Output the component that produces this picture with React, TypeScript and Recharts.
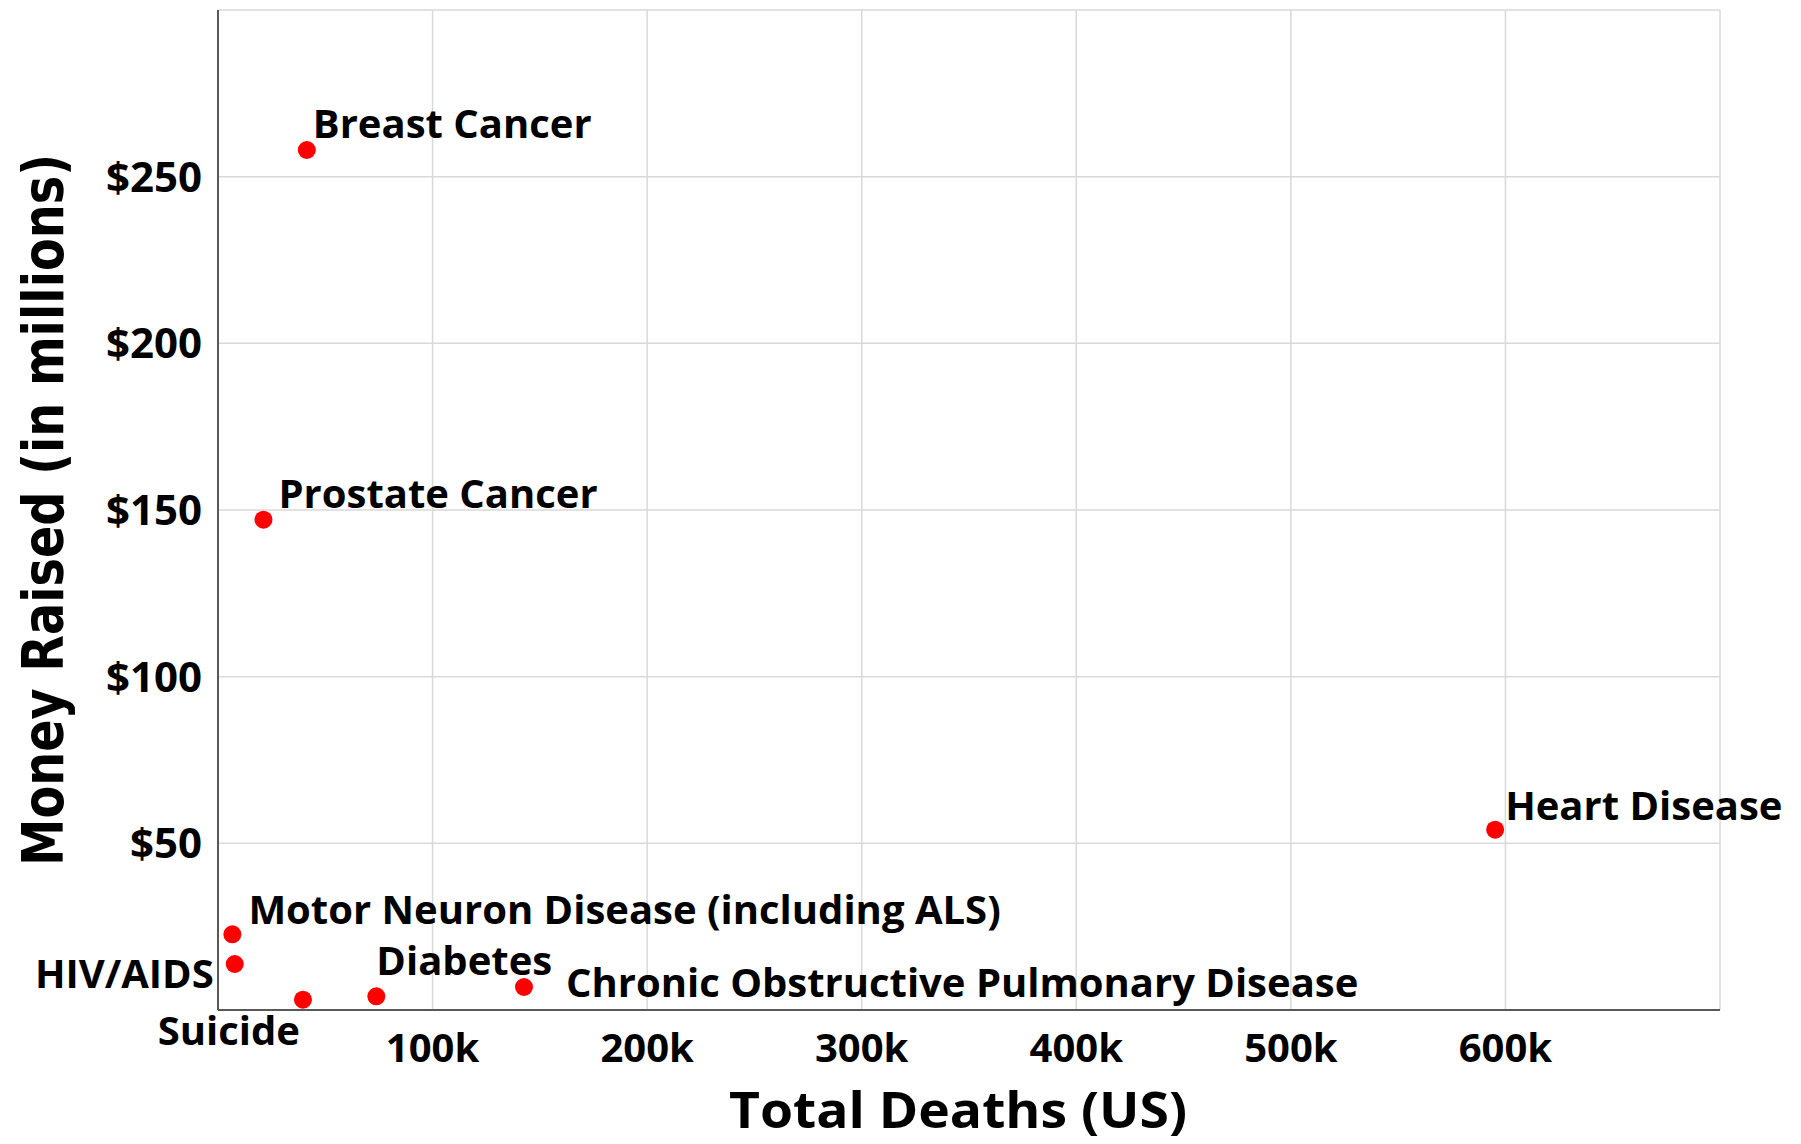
import React from 'react';
import { ScatterChart, Scatter, XAxis, YAxis, CartesianGrid, Label } from 'recharts';

const causes = [
  'Breast Cancer',
  'Prostate Cancer',
  'Motor Neuron Disease (including ALS)',
  'HIV/AIDS',
  'Suicide',
  'Diabetes',
  'Chronic Obstructive Pulmonary Disease',
  'Heart Disease',
];
const totalDeaths = [41400, 21200, 6700, 7800, 39600, 73800, 142600, 595200];
const moneyRaised = [258, 147.1, 22.7, 13.8, 3.1, 4.1, 6.9, 54.1];

const xTicks = [0, 100000, 200000, 300000, 400000, 500000, 600000, 700000];
const yTicks = [0, 50, 100, 150, 200, 250, 300];

const data = causes.map((name, i) => ({ name, deaths: totalDeaths[i], money: moneyRaised[i] }));

// label layout (offsets from the marker centre), kept apart from the data
const labelPlacement: Record<string, { dx: number; dy: number; anchor: 'start' | 'end' }> = {
  'Breast Cancer': { dx: 6, dy: -12, anchor: 'start' },
  'Prostate Cancer': { dx: 15, dy: -12, anchor: 'start' },
  'Motor Neuron Disease (including ALS)': { dx: 16, dy: -10, anchor: 'start' },
  'HIV/AIDS': { dx: -21, dy: 24, anchor: 'end' },
  Suicide: { dx: -3, dy: 45, anchor: 'end' },
  Diabetes: { dx: 0, dy: -21, anchor: 'start' },
  'Chronic Obstructive Pulmonary Disease': { dx: 42, dy: 10, anchor: 'start' },
  'Heart Disease': { dx: 10, dy: -10, anchor: 'start' },
};

const FONT = '"Open Sans", sans-serif';

const DotWithLabel = (props: any) => {
  const { cx, cy, payload } = props;
  const p = labelPlacement[payload.name] || { dx: 10, dy: -10, anchor: 'start' };
  return (
    <g>
      <circle cx={cx} cy={cy} r={9} fill="#ff0000" />
      <text
        x={cx + p.dx}
        y={cy + p.dy}
        textAnchor={p.anchor}
        fontFamily={FONT}
        fontWeight={700}
        fontSize={40}
        fill="#000"
      >
        {payload.name}
      </text>
    </g>
  );
};

const xFmt = (v: number) => (v === 0 || v === 700000 ? '' : `${v / 1000}k`);
const yFmt = (v: number) => (v === 0 || v === 300 ? '' : `$${v}`);

export default function App() {
  return (
    <div style={{ width: 1785, height: 1136 }}>
      <ScatterChart
        width={1785}
        height={1136}
        margin={{ top: 2, right: 73, bottom: 14, left: 0 }}
      >
        <CartesianGrid stroke="#d9d9d9" strokeWidth={1.5} />
        <XAxis
          type="number"
          dataKey="deaths"
          domain={[0, 700000]}
          ticks={xTicks}
          interval={0}
          tickFormatter={xFmt}
          height={120}
          tickLine={false}
          tickSize={6}
          tickMargin={18}
          axisLine={{ stroke: '#595959', strokeWidth: 2 }}
          tick={{ fill: '#000', fontFamily: FONT, fontWeight: 700, fontSize: 40 }}
        >
          <Label
            content={(lp: any) => {
              const vb = lp.viewBox;
              return (
                <text
                  x={vb.x + vb.width / 2 - 11}
                  y={vb.y + 118}
                  textAnchor="middle"
                  fontFamily={FONT}
                  fontWeight={700}
                  fontSize={50}
                  textLength={458}
                  lengthAdjust="spacingAndGlyphs"
                  fill="#000"
                >
                  Total Deaths (US)
                </text>
              );
            }}
          />
        </XAxis>
        <YAxis
          type="number"
          dataKey="money"
          domain={[0, 300]}
          ticks={yTicks}
          interval={0}
          tickFormatter={yFmt}
          width={210}
          tickLine={false}
          tickSize={6}
          tickMargin={10}
          axisLine={{ stroke: '#595959', strokeWidth: 2 }}
          tick={{ fill: '#000', fontFamily: FONT, fontWeight: 700, fontSize: 42 }}
        >
          <Label
            content={(lp: any) => {
              const vb = lp.viewBox;
              const x = vb.x + 55;
              const y = vb.y + vb.height / 2;
              return (
                <text
                  x={x}
                  y={y}
                  transform={`rotate(-90, ${x}, ${y})`}
                  textAnchor="middle"
                  fontFamily='"DejaVu Sans", sans-serif'
                  fontWeight={700}
                  fontSize={57}
                  textLength={712}
                  lengthAdjust="spacingAndGlyphs"
                  fill="#000"
                >
                  Money Raised (in millions)
                </text>
              );
            }}
          />
        </YAxis>
        <Scatter data={data} shape={DotWithLabel} isAnimationActive={false} />
      </ScatterChart>
    </div>
  );
}
